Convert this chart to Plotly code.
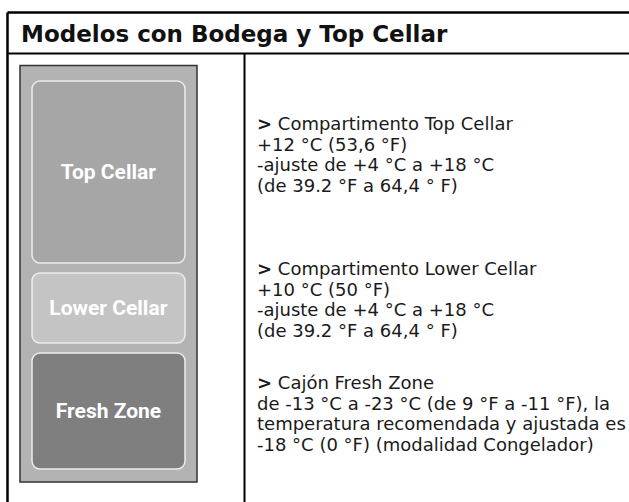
import plotly.graph_objects as go

# ---- data ----
title_text = "Modelos con Bodega y Top Cellar"
compartments = ["Top Cellar", "Lower Cellar", "Fresh Zone"]
compartment_tops = [81, 273, 353]
compartment_heights = [182, 70, 116]
compartment_colors = ["#a6a6a6", "#c4c4c4", "#7f7f7f"]

desc_top = ["Compartimento Top Cellar", "+12 °C (53,6 °F)",
            "-ajuste de +4 °C a +18 °C", "(de 39.2 °F a 64,4 ° F)"]
desc_lower = ["Compartimento Lower Cellar", "+10 °C (50 °F)",
              "-ajuste de +4 °C a +18 °C", "(de 39.2 °F a 64,4 ° F)"]
desc_fresh = ["Cajón Fresh Zone", "de -13 °C a -23 °C (de 9 °F a -11 °F), la",
              "temperatura recomendada y ajustada es",
              "-18 °C (0 °F) (modalidad Congelador)"]
descriptions = [desc_top, desc_lower, desc_fresh]
desc_centers = [154, 299, 413]

W, H = 629, 502
FONT = "DejaVu Sans"
LABEL_FONT = "Roboto"
TEXT_PX = 18
LINE_STEP = 20.7

fig = go.Figure()

fig.add_trace(go.Bar(
    x=[108.5] * len(compartments),
    y=compartment_heights,
    base=compartment_tops,
    width=153,
    marker=dict(color=compartment_colors, line=dict(color="#ededed", width=1.5)),
    text=[f"<b>{c}</b>" for c in compartments],
    textposition="inside",
    insidetextanchor="middle",
    textangle=0,
    textfont=dict(family=LABEL_FONT, size=21, color="white"),
    constraintext="none",
    hoverinfo="skip",
    showlegend=False,
))

shapes = [
    dict(type="rect", x0=20, x1=197, y0=65.5, y1=482,
         fillcolor="#b3b3b3", line=dict(color="#333333", width=1.5), layer="below"),
    dict(type="line", x0=7.5, x1=W + 20, y0=12.5, y1=12.5, line=dict(color="black", width=2.5)),
    dict(type="line", x0=7.5, x1=7.5, y0=12.5, y1=H + 20, line=dict(color="black", width=2.5)),
    dict(type="line", x0=7.5, x1=W + 20, y0=53.5, y1=53.5, line=dict(color="black", width=2)),
    dict(type="line", x0=244.5, x1=244.5, y0=53.5, y1=H + 20, line=dict(color="black", width=2)),
]

annotations = [
    dict(x=19, y=34, text=f"<b>{title_text}</b>", showarrow=False,
         xanchor="left", yanchor="middle",
         font=dict(family=FONT, size=23, color="#111111")),
]
for lines, yc in zip(descriptions, desc_centers):
    parts = []
    for i, line in enumerate(lines):
        t = ("<b>></b> " + line) if i == 0 else line
        parts.append(f'<span style="font-size:{TEXT_PX}px">{t}</span>')
    annotations.append(dict(x=255, y=yc, text="<br>".join(parts), showarrow=False,
                            xanchor="left", yanchor="middle", align="left",
                            font=dict(family=FONT, size=LINE_STEP / 1.3, color="#1a1a1a")))

fig.update_layout(
    width=W, height=H,
    margin=dict(l=0, r=0, t=0, b=0),
    paper_bgcolor="white", plot_bgcolor="white",
    barcornerradius=8,
    shapes=shapes,
    annotations=annotations,
    xaxis=dict(range=[0, W], visible=False, fixedrange=True),
    yaxis=dict(range=[H, 0], visible=False, fixedrange=True),
    showlegend=False,
)

fig.write_html(
    "out.html",
    config={"displayModeBar": False, "staticPlot": True},
    post_script="document.body.style.margin='0';document.body.style.overflow='hidden';",
)
